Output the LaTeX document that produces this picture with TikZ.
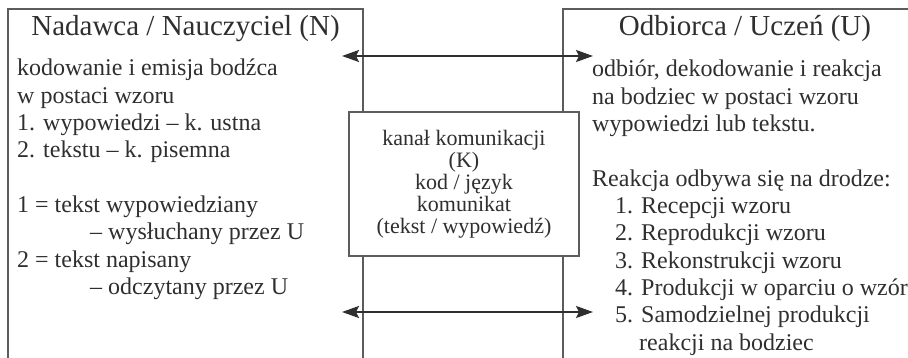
\documentclass[tikz,border=0pt]{standalone}
\usepackage{fontspec}
\setmainfont{Liberation Serif}
\usetikzlibrary{arrows.meta}
\definecolor{szary}{HTML}{5C5C5C}
\definecolor{ciemny}{HTML}{2F2F2F}
\tikzset{
  ramka/.style={draw=szary,line width=1.4pt},
  strzalka/.style={draw=ciemny,line width=2.2pt,
    {Stealth[length=17pt,width=12pt,inset=3pt]}-{Stealth[length=17pt,width=12pt,inset=3pt]}},
  opis/.style={anchor=base west,inner sep=0pt,text=ciemny,
    font=\fontsize{24}{27}\selectfont},
  tytul/.style={anchor=base,inner sep=0pt,text=ciemny,
    font=\fontsize{29}{32}\selectfont},
}

\begin{document}
\begin{tikzpicture}[x=1pt,y=-1pt]
  \useasboundingbox (0,0) rectangle (908,358);
  \def\d{27.3} \def\a{76}
  \draw[ramka] (8,360) -- (8,9) -- (363,9) -- (363,360);
  \draw[ramka] (563,360) -- (563,9) -- (920,9);
  \node[tytul] (nadawca) at (185.5,36) {Nadawca / Nauczyciel (N)};
  \node[tytul] (odbiorca) at (745,36) {Odbiorca / Uczeń (U)};
  \node[opis] (n1) at (17,{\a}) {kodowanie i emisja bodźca};
  \node[opis] (n2) at (17,{\a+\d}) {w postaci wzoru};
  \node[opis] (n3) at (17,{\a+2*\d}) {1. wypowiedzi -- k. ustna};
  \node[opis] (n4) at (17,{\a+3*\d}) {2. tekstu -- k. pisemna};
  \node[opis] (n5) at (17,{\a+5*\d}) {1 = tekst wypowiedziany};
  \node[opis] (n6) at (90,{\a+6*\d}) {-- wysłuchany przez U};
  \node[opis] (n7) at (17,{\a+7*\d}) {2 = tekst napisany};
  \node[opis] (n8) at (90,{\a+8*\d}) {-- odczytany przez U};
  \def\a{77}
  \node[opis] (u1) at (592,{\a}) {odbiór, dekodowanie i reakcja};
  \node[opis] (u2) at (592,{\a+\d}) {na bodziec w postaci wzoru};
  \node[opis] (u3) at (592,{\a+2*\d}) {wypowiedzi lub tekstu.};
  \node[opis] (u4) at (592,{\a+4*\d}) {Reakcja odbywa się na drodze:};
  \node[opis] (u5) at (615,{\a+5*\d}) {1. Recepcji wzoru};
  \node[opis] (u6) at (615,{\a+6*\d}) {2. Reprodukcji wzoru};
  \node[opis] (u7) at (615,{\a+7*\d}) {3. Rekonstrukcji wzoru};
  \node[opis] (u8) at (615,{\a+8*\d}) {4. Produkcji w oparciu o wzór};
  \node[opis] (u9) at (615,{\a+9*\d}) {5. Samodzielnej produkcji};
  \node[opis] (u10) at (639,{\a+10*\d}) {reakcji na bodziec};
  \node[ramka,fill=white,minimum width=230pt,minimum height=144pt,
    align=center,text=ciemny,font=\fontsize{22}{22}\selectfont]
    (kanal) at (464,184)
    {kanał komunikacji\\(K)\\kod / język\\komunikat\\(tekst / wypowiedź)};
  \coordinate (g1) at (342,56);
  \coordinate (g2) at (593,56);
  \coordinate (d1) at (342,312);
  \coordinate (d2) at (593,312);
  \draw[strzalka] (g1) -- (g2);
  \draw[strzalka] (d1) -- (d2);
\end{tikzpicture}
\end{document}
